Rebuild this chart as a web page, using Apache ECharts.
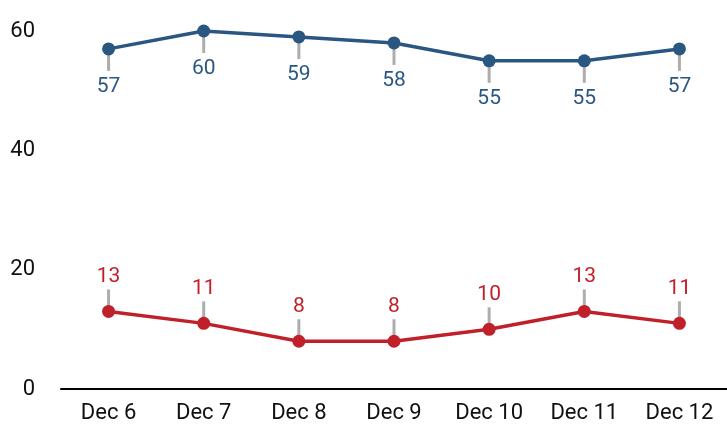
<!DOCTYPE html>
<html>
<head>
<meta charset="utf-8">
<script src="https://cdn.jsdelivr.net/npm/echarts@6/dist/echarts.min.js"></script>
<style>html,body{margin:0;padding:0;background:#fff}#c{width:727px;height:428px}</style>
</head>
<body>
<div id="c"></div>
<script>
const categories = ['Dec 6','Dec 7','Dec 8','Dec 9','Dec 10','Dec 11','Dec 12'];
const blueValues = [57, 60, 59, 58, 55, 55, 57];
const redValues = [13, 11, 8, 8, 10, 13, 11];
const yTicks = [0, 20, 40, 60];

const BLUE = '#2a5782';
const RED = '#c0202a';
const GRAY = '#999999';
const FONT = 'Roboto';

const chart = echarts.init(document.getElementById('c'));
chart.setOption({
  animation: false,
  grid: { left: 61, right: -2, top: 31, bottom: 39 },
  xAxis: {
    type: 'category',
    data: categories,
    axisLine: { lineStyle: { color: '#000', width: 2 } },
    axisTick: { show: false },
    axisLabel: { color: '#111', fontSize: 22, fontFamily: FONT, margin: 13 }
  },
  yAxis: {
    type: 'value',
    min: yTicks[0], max: yTicks[yTicks.length - 1], interval: 20,
    axisLine: { show: false },
    axisTick: { show: false },
    splitLine: { show: false },
    axisLabel: { color: '#111', fontSize: 22, fontFamily: FONT, margin: 26 }
  },
  series: [
    {
      type: 'scatter', data: blueValues, symbol: 'rect', symbolSize: [3, 22],
      symbolOffset: [0, 11], itemStyle: { color: GRAY }, z: 1, silent: true
    },
    {
      type: 'scatter', data: redValues, symbol: 'rect', symbolSize: [3, 22],
      symbolOffset: [0, -11], itemStyle: { color: GRAY }, z: 1, silent: true
    },
    {
      type: 'line', data: blueValues, symbol: 'circle', symbolSize: 13,
      lineStyle: { color: BLUE, width: 3.5 }, itemStyle: { color: BLUE }, z: 3,
      label: { show: true, position: 'bottom', distance: 21, color: BLUE, fontSize: 21, fontFamily: FONT }
    },
    {
      type: 'line', data: redValues, symbol: 'circle', symbolSize: 13,
      lineStyle: { color: RED, width: 3.5 }, itemStyle: { color: RED }, z: 3,
      label: { show: true, position: 'top', distance: 18, color: RED, fontSize: 21, fontFamily: FONT }
    }
  ]
});
</script>
</body>
</html>
